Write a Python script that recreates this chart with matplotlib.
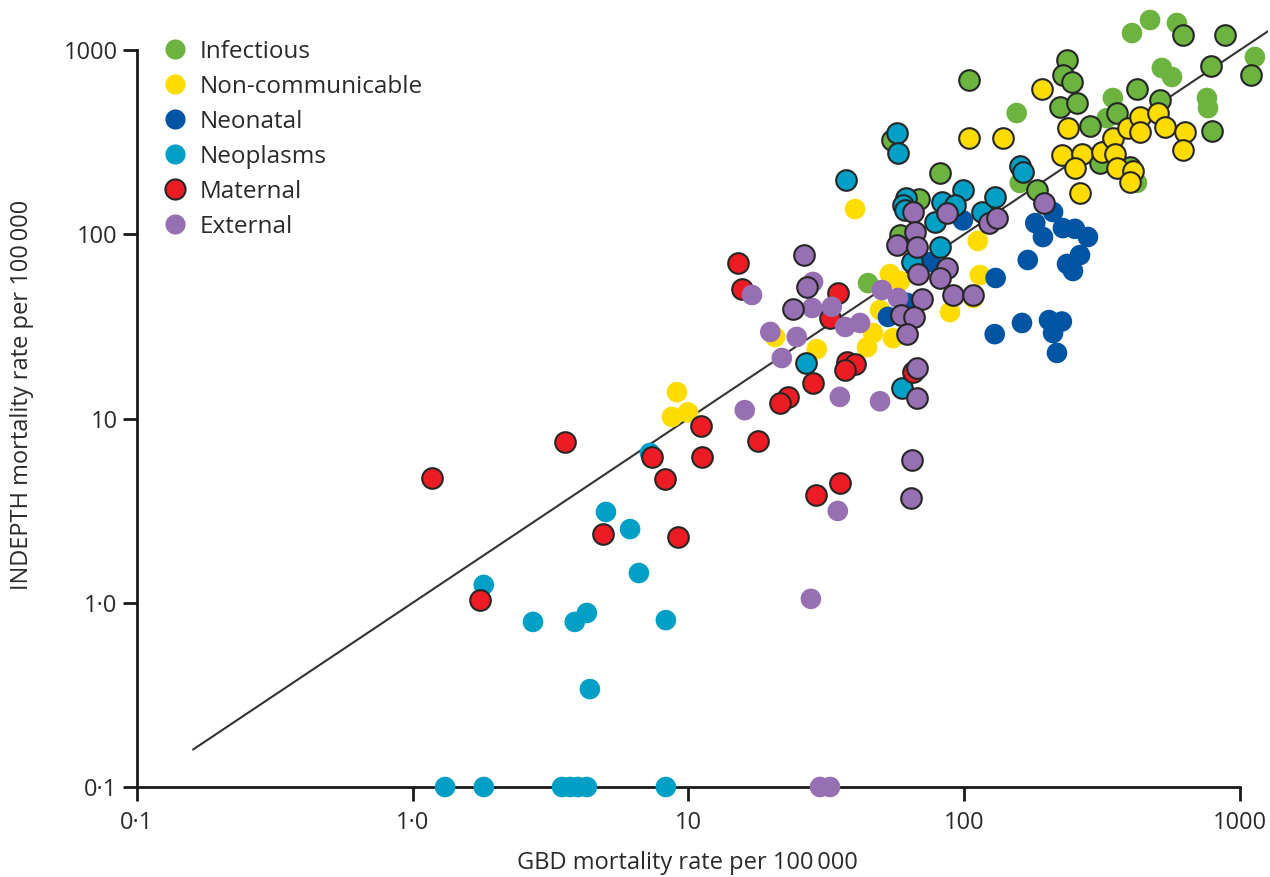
import matplotlib
matplotlib.use("Agg")
import matplotlib.pyplot as plt
from matplotlib.lines import Line2D

FONT = ["Open Sans", "DejaVu Sans"]
plt.rcParams["font.family"] = FONT

# ---------------- data (GBD rate, INDEPTH rate per 100 000) ----------------
categories = ["Infectious", "Non-communicable", "Neonatal", "Neoplasms", "Maternal", "External"]
colors = ["#6cb33f", "#ffdc00", "#0054a4", "#00a0c6", "#ed1c24", "#9670b3"]

# Infectious
inf_out_x = [621, 883, 1096, 785, 791, 423, 513, 358, 286, 236, 228, 246, 222, 256, 184, 311, 399, 104, 81.7, 54.7, 68.5, 58.5]
inf_out_y = [1206, 1206, 732, 819, 363, 614, 535, 455, 387, 883, 732, 671, 491, 516, 174, 244, 232, 688, 215, 325, 155, 99]
inf_pl_x = [406, 472, 591, 1133, 521, 567, 759, 766, 346, 329, 155, 423, 159, 44.8]
inf_pl_y = [1236, 1455, 1402, 916, 799, 714, 549, 484, 549, 427, 455, 190, 190, 54.3]

# Non-communicable
ncd_out_x = [104, 138, 191, 238, 226, 267, 252, 316, 346, 352, 358, 409, 399, 393, 434, 434, 504, 535, 632, 621, 263]
ncd_out_y = [333, 333, 614, 377, 269, 272, 229, 280, 333, 272, 229, 220, 192, 377, 433, 359, 455, 382, 359, 287, 167]
ncd_pl_x = [40.2, 112, 114, 88.8, 53.8, 58.5, 49.5, 46.7, 44.4, 55.2, 29.2, 20.6, 108, 9.08, 8.71, 9.96]
ncd_pl_y = [137, 91.9, 60.1, 37.8, 60.8, 55.7, 38.8, 29.1, 24.4, 27.3, 23.8, 27.7, 45.1, 13.9, 10.2, 10.8]

# Neonatal
neo_out_x = []
neo_out_y = []
neo_pl_x = [98.9, 75.7, 52.9, 130, 170, 181, 193, 210, 228, 252, 281, 263, 236, 248, 129, 162, 203, 226, 210, 217, 62.0]
neo_pl_y = [119, 70.7, 35.6, 57.9, 72.5, 115, 96.6, 132, 108, 107, 96.6, 77.1, 69.0, 63.2, 28.7, 33.0, 34.2, 33.6, 29.1, 22.7, 42.4]

# Neoplasms
npl_out_x = [57.0, 57.5, 37.3, 61.5, 60.0, 61.0, 83.0, 98.9, 92.5, 78.3, 116, 129, 159, 163, 81.7, 64.7, 59.4, 26.7]
npl_out_y = [355, 276, 197, 157, 144, 135, 150, 174, 144, 117, 132, 159, 234, 218, 85.3, 70.7, 14.6, 20.0]
npl_pl_x = [1.31, 1.81, 3.48, 3.72, 3.97, 4.28, 8.28, 1.81, 2.73, 3.87, 4.28, 4.39, 8.28, 5.02, 6.14, 6.61, 7.25]
npl_pl_y = [0.1, 0.1, 0.1, 0.1, 0.1, 0.1, 0.1, 1.25, 0.787, 0.787, 0.88, 0.34, 0.805, 3.11, 2.51, 1.45, 6.5]

# Maternal
mat_out_x = [1.17, 3.56, 7.38, 8.22, 4.90, 9.16, 1.75, 11.1, 11.2, 17.9, 15.1, 15.6, 34.8, 32.6, 37.6, 40.2, 37.0, 28.3, 23.0, 21.5, 29.0, 35.4, 65.2]
mat_out_y = [4.75, 7.45, 6.18, 4.70, 2.36, 2.28, 1.035, 9.10, 6.18, 7.54, 69.8, 50.5, 48.0, 35.1, 20.3, 19.8, 18.3, 15.6, 13.1, 12.1, 3.85, 4.47, 17.9]
mat_pl_x = []
mat_pl_y = []

# External
ext_out_x = [26.2, 26.9, 23.9, 65.2, 86.5, 123, 131, 195, 66.3, 57.0, 67.4, 67.9, 86.5, 81.7, 91.0, 108, 70.3, 59.0, 65.7, 62.0, 67.4, 67.4, 64.7, 64.1]
ext_out_y = [77.1, 51.8, 39.3, 132, 130, 115, 122, 148, 103, 87.5, 85.3, 60.8, 65.6, 57.9, 46.8, 46.8, 44.5, 36.5, 35.6, 28.7, 18.8, 12.9, 5.95, 3.70]
ext_pl_x = [17.0, 19.8, 21.8, 24.7, 28.3, 28.1, 33.1, 37.0, 41.9, 50.3, 57.5, 16.0, 35.4, 49.5, 34.8, 27.8, 30.0, 32.6]
ext_pl_y = [46.8, 29.5, 21.3, 27.7, 55.1, 39.8, 40.4, 31.4, 33.0, 49.8, 45.1, 11.1, 13.1, 12.4, 3.15, 1.05, 0.1, 0.1]

tick_vals = [0.1, 1, 10, 100, 1000]
tick_labels = ["0\u00b71", "1\u00b70", "10", "100", "1000"]
line_ends = [0.16, 1300]

# ---------------- figure ----------------
W, H = 1270, 877
fig = plt.figure(figsize=(W / 100, H / 100), dpi=100)
ax = fig.add_axes([137 / W, 90 / H, 1131 / W, 782 / H])
ax.set_xscale("log")
ax.set_yscale("log")
ax.set_xlim(0.1, 1264)
ax.set_ylim(0.1, 1755)

ax.plot(line_ends, line_ends, color="#333333", lw=1.5, zorder=1)

series = [
    (inf_pl_x, inf_pl_y, inf_out_x, inf_out_y),
    (ncd_pl_x, ncd_pl_y, ncd_out_x, ncd_out_y),
    (neo_pl_x, neo_pl_y, neo_out_x, neo_out_y),
    (npl_pl_x, npl_pl_y, npl_out_x, npl_out_y),
    (mat_pl_x, mat_pl_y, mat_out_x, mat_out_y),
    (ext_pl_x, ext_pl_y, ext_out_x, ext_out_y),
]
S = 220
z = 3
for (px, py, ox, oy), col in zip(series, colors):
    if px:
        ax.scatter(px, py, s=S, color=col, edgecolors="none", zorder=z, clip_on=False)
    z += 1
    if ox:
        ax.scatter(ox, oy, s=S, color=col, edgecolors="#262626", linewidths=1.5, zorder=z, clip_on=False)
    z += 1

for side in ("top", "right"):
    ax.spines[side].set_visible(False)
for side in ("left", "bottom"):
    ax.spines[side].set_linewidth(2.0)
    ax.spines[side].set_color("#1a1a1a")
ax.spines["left"].set_bounds(0.1, 1000)
ax.spines["bottom"].set_bounds(0.1, 1000)

ax.set_xticks(tick_vals)
ax.set_xticklabels(tick_labels)
ax.set_yticks(tick_vals)
ax.set_yticklabels(tick_labels)
ax.minorticks_off()
ax.tick_params(axis="both", which="major", direction="out", length=10, width=2.0,
               color="#1a1a1a", labelsize=17, labelcolor="#2a2a2a")
ax.tick_params(axis="y", pad=4)
ax.tick_params(axis="x", pad=7)

ax.set_xlabel("GBD mortality rate per 100\u2009000", fontsize=17, color="#2a2a2a")
ax.set_ylabel("INDEPTH mortality rate per 100\u2009000", fontsize=17, color="#2a2a2a")
ax.xaxis.set_label_coords(0.487, -0.082)
ax.yaxis.set_label_coords(-0.091, 0.501)

handles = []
for cat, col in zip(categories, colors):
    ec = "#262626" if cat == "Maternal" else col
    handles.append(Line2D([], [], marker="o", linestyle="none", markersize=14.5,
                          markerfacecolor=col, markeredgecolor=ec,
                          markeredgewidth=1.5 if cat == "Maternal" else 0))
leg = ax.legend(handles, categories, loc="upper left",
                bbox_to_anchor=(163 / W, 1 - 40 / H), bbox_transform=fig.transFigure,
                frameon=False, fontsize=17.5, handlelength=1.0, handletextpad=0.5,
                labelspacing=0.45, borderpad=0, borderaxespad=0)
for t in leg.get_texts():
    t.set_color("#2a2a2a")

fig.savefig("out.png", dpi=100)
